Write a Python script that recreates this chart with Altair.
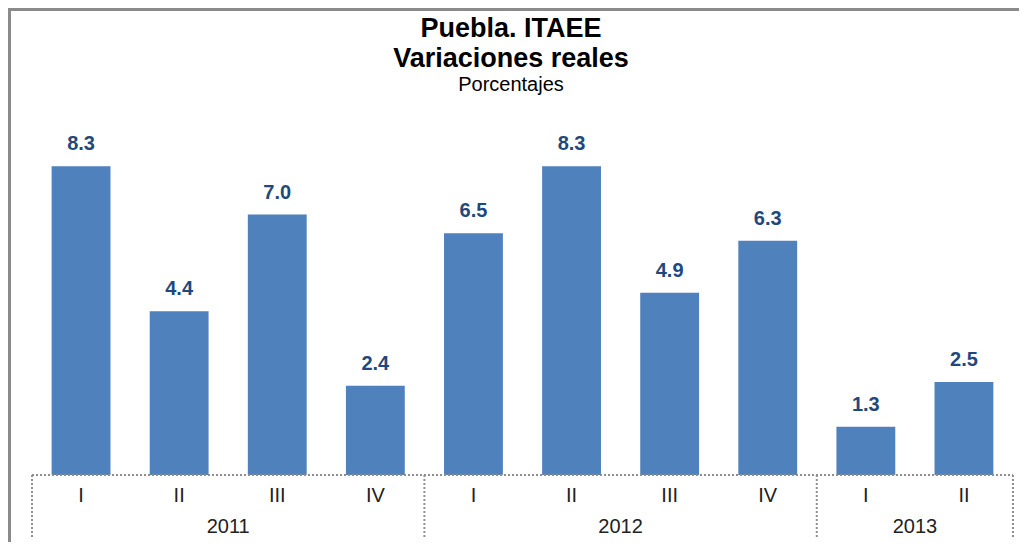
import altair as alt
import pandas as pd

# ---- data ----
quarters = ["I", "II", "III", "IV", "I", "II", "III", "IV", "I", "II"]
years = ["2011"] * 4 + ["2012"] * 4 + ["2013"] * 2
values = [8.3, 4.4, 7.0, 2.4, 6.5, 8.3, 4.9, 6.3, 1.3, 2.5]
title_lines = ["Puebla. ITAEE", "Variaciones reales"]
subtitle_text = "Porcentajes"

df = pd.DataFrame({
    "idx": list(range(len(values))),
    "quarter": quarters,
    "year": years,
    "value": values,
})
df["label"] = [f"{v:.1f}" for v in values]
df["x0"] = df["idx"] + 0.2
df["x1"] = df["idx"] + 0.8
df["xc"] = df["idx"] + 0.5

groups = df.groupby("year")["idx"].agg(["min", "max"]).reset_index()
groups["start"] = groups["min"]
groups["end"] = groups["max"] + 1
groups["mid"] = (groups["start"] + groups["end"]) / 2
bounds = pd.DataFrame({"b": sorted(set(groups["start"]) | set(groups["end"]))})

# ---- layout ----
W, H = 981, 372
FONT = "Liberation Sans"
xscale = alt.Scale(domain=[0, len(values)], nice=False, zero=False)
yscale = alt.Scale(domain=[0, 10], nice=False)
GRID = "#8f8f8f"

bars = alt.Chart(df).mark_bar(color="#4F81BD").encode(
    x=alt.X("x0:Q", scale=xscale, axis=None),
    x2="x1:Q",
    y=alt.Y("value:Q", scale=yscale, axis=None),
    y2=alt.datum(0),
)

bar_labels = alt.Chart(df).mark_text(
    dy=-16, baseline="alphabetic", fontSize=20, fontWeight="bold",
    color="#1F497D", font=FONT,
).encode(
    x=alt.X("xc:Q", scale=xscale),
    y=alt.Y("value:Q", scale=yscale),
    text="label:N",
)

q_labels = alt.Chart(df).mark_text(
    baseline="alphabetic", fontSize=20, color="#222222", font=FONT,
).encode(
    x=alt.X("xc:Q", scale=xscale),
    y=alt.value(H + 27),
    text="quarter:N",
)

y_labels = alt.Chart(groups).mark_text(
    baseline="alphabetic", fontSize=20, color="#222222", font=FONT,
).encode(
    x=alt.X("mid:Q", scale=xscale),
    y=alt.value(H + 58),
    text="year:N",
)

separators = alt.Chart(bounds).mark_rule(
    color=GRID, strokeWidth=2, strokeDash=[2, 2],
).encode(
    x=alt.X("b:Q", scale=xscale),
    y=alt.value(H),
    y2=alt.value(H + 62),
)

baseline = alt.Chart(pd.DataFrame({"z": [0]})).mark_rule(
    color=GRID, strokeWidth=2, strokeDash=[2, 2],
).encode(
    y=alt.Y("z:Q", scale=yscale),
    x=alt.value(0),
    x2=alt.value(W),
)

def title_text(txt, ypos, size, bold):
    return alt.Chart(pd.DataFrame({"t": [txt]})).mark_text(
        baseline="alphabetic", align="center", fontSize=size,
        fontWeight="bold" if bold else "normal", color="#000000", font=FONT,
    ).encode(text="t:N", x=alt.value(479), y=alt.value(ypos))

t1 = title_text(title_lines[0], 37 - 103, 27, True)
t2 = title_text(title_lines[1], 67 - 103, 27, True)
t3 = title_text(subtitle_text, 91 - 103, 20, False)

frame_left = alt.Chart(pd.DataFrame({"z": [0]})).mark_rule(
    color="#8a8a8a", strokeWidth=3,
).encode(x=alt.value(-22.5), y=alt.value(-95), y2=alt.value(H + 70))

frame_top = alt.Chart(pd.DataFrame({"z": [0]})).mark_rule(
    color="#8a8a8a", strokeWidth=3,
).encode(y=alt.value(-93.5), x=alt.value(-24), x2=alt.value(W + 6))

chart = alt.layer(
    frame_left, frame_top, bars, bar_labels, baseline, separators,
    q_labels, y_labels, t1, t2, t3,
).properties(
    width=W, height=H,
    autosize=alt.AutoSizeParams(type="none"),
    padding={"left": 24, "top": 95, "right": 6, "bottom": 67},
).configure(background="white").configure_view(stroke=None)

chart.save("out.html", embed_options={"renderer": "svg", "actions": False})
